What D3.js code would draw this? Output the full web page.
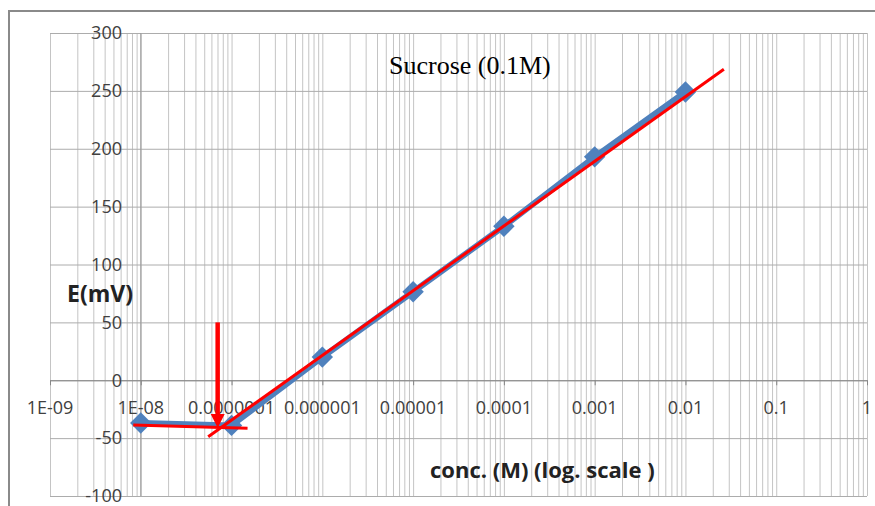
<!DOCTYPE html>
<html>
<head>
<meta charset="utf-8">
<script src="https://cdn.jsdelivr.net/npm/d3@7"></script>
<style>
  body { margin: 0; background: #fff; }
  svg { display: block; }
</style>
</head>
<body>
<div class="chart"></div>
<script>
// Data
const concentrations = [1e-8, 1e-7, 1e-6, 1e-5, 1e-4, 1e-3, 1e-2];
const potentials = [-37, -39, 20, 76.5, 133, 193, 249];

// red trend line (hand drawn in the original)
const fitConc = [5.53e-8, 2.65e-2];
const fitE = [-48.8, 268.6];

// red baseline line
const baseConc = [8.26e-9, 1.5e-7];
const baseE = [-38.7, -41.5];

// red arrow
const arrowConc = [7.03e-8, 7.03e-8];
const arrowE = [50, -41.3];

const xTickValues = [1e-9, 1e-8, 1e-7, 1e-6, 1e-5, 1e-4, 1e-3, 1e-2, 1e-1, 1];
const xTickLabels = ['1E-09', '1E-08', '0.0000001', '0.000001', '0.00001', '0.0001', '0.001', '0.01', '0.1', '1'];
const yTickValues = [-100, -50, 0, 50, 100, 150, 200, 250, 300];

const width = 875, height = 506;
const margin = {top: 33, right: 8, bottom: 10, left: 50};
const plotW = width - margin.left - margin.right;   // 817
const plotH = 496 - margin.top;                        // 463

const svg = d3.select('.chart')
    .append('svg')
    .attr('width', width)
    .attr('height', height);

// Outer chart border
svg.append('rect')
    .attr('x', 9).attr('y', 11)
    .attr('width', 900).attr('height', 600)
    .attr('fill', 'none')
    .attr('stroke', '#8a8a8a')
    .attr('stroke-width', 2);

const g = svg.append('g')
    .attr('transform', `translate(${margin.left},${margin.top})`);

// Scales
const x = d3.scaleLog().domain([1e-9, 1]).range([0, plotW]);
const y = d3.scaleLinear().domain([-100, 300]).range([plotH, 0]);

// Vertical grid: 1..9 in every decade
const minorTicks = [];
xTickValues.slice(0, -1).forEach(dec => {
    for (let m = 1; m <= 9; m++) minorTicks.push(m * dec);
});
minorTicks.push(1);

g.append('g')
    .attr('class', 'x grid')
    .call(d3.axisBottom(x).tickValues(minorTicks).tickSize(plotH).tickFormat(''))
    .call(s => s.select('.domain').remove())
    .call(s => s.selectAll('line').attr('stroke', '#c4c4c4').attr('stroke-width', 1));

// Horizontal grid
g.append('g')
    .attr('class', 'y grid')
    .call(d3.axisRight(y).tickValues(yTickValues).tickSize(plotW).tickFormat(''))
    .call(s => s.select('.domain').remove())
    .call(s => s.selectAll('line').attr('stroke', '#acacac').attr('stroke-width', 1));

// Vertical axis line at 1E-08
g.append('line')
    .attr('x1', x(1e-8)).attr('x2', x(1e-8))
    .attr('y1', 0).attr('y2', plotH)
    .attr('stroke', '#9a9a9a').attr('stroke-width', 1);

// Horizontal axis at E = 0
const xAxisDraw = g.append('g')
    .attr('class', 'x axis')
    .attr('transform', `translate(0,${y(0)})`)
    .call(d3.axisBottom(x).tickValues(xTickValues).tickFormat('').tickSizeInner(5).tickSizeOuter(0));

xAxisDraw.select('.domain').attr('stroke', '#868686');
xAxisDraw.selectAll('line').attr('stroke', '#868686');

// X tick labels
g.append('g')
    .attr('class', 'x labels')
    .selectAll('text')
    .data(xTickValues)
    .join('text')
    .attr('x', d => x(d))
    .attr('y', y(0) + 34)
    .attr('text-anchor', 'middle')
    .attr('font-family', 'Open Sans')
    .attr('font-size', 18)
    .attr('fill', '#404040')
    .text((d, i) => xTickLabels[i]);

// Y tick labels
g.append('g')
    .attr('class', 'y labels')
    .selectAll('text')
    .data(yTickValues)
    .join('text')
    .attr('x', 72)
    .attr('y', d => y(d))
    .attr('dy', '0.35em')
    .attr('text-anchor', 'end')
    .attr('font-family', 'Open Sans')
    .attr('font-size', 18)
    .attr('fill', '#404040')
    .text(d => d);

// Blue series line
const line = d3.line()
    .x(d => x(d[0]))
    .y(d => y(d[1]));

const series = concentrations.map((c, i) => [c, potentials[i]]);

g.append('path')
    .datum(series)
    .attr('d', line)
    .attr('fill', 'none')
    .attr('stroke', '#4F81BD')
    .attr('stroke-width', 6)
    .attr('stroke-linejoin', 'round');

// Diamond markers
g.selectAll('.marker')
    .data(series)
    .join('path')
    .attr('class', 'marker')
    .attr('d', d3.symbol().type(d3.symbolSquare).size(230))
    .attr('transform', d => `translate(${x(d[0])},${y(d[1])}) rotate(45)`)
    .attr('fill', '#4F81BD');

// Red trend line
g.append('path')
    .datum(fitConc.map((c, i) => [c, fitE[i]]))
    .attr('d', line)
    .attr('fill', 'none')
    .attr('stroke', '#ff0000')
    .attr('stroke-width', 3);

// Red baseline
g.append('path')
    .datum(baseConc.map((c, i) => [c, baseE[i]]))
    .attr('d', line)
    .attr('fill', 'none')
    .attr('stroke', '#ff0000')
    .attr('stroke-width', 3);

// Red arrow
const ax = x(arrowConc[0]);
const ay0 = y(arrowE[0]);
const ay1 = y(arrowE[1]);
g.append('line')
    .attr('x1', ax).attr('x2', ax)
    .attr('y1', ay0).attr('y2', ay1 - 12)
    .attr('stroke', '#ff0000')
    .attr('stroke-width', 4.5);
g.append('path')
    .attr('d', `M${ax - 7},${ay1 - 14} L${ax + 7},${ay1 - 14} L${ax},${ay1} Z`)
    .attr('fill', '#ff0000');

// Title
svg.append('text')
    .attr('x', 389)
    .attr('y', 74)
    .attr('font-family', 'Liberation Serif')
    .attr('font-size', 26)
    .attr('fill', '#000')
    .text('Sucrose (0.1M)');

// Axis titles
svg.append('text')
    .attr('x', 67)
    .attr('y', 302)
    .attr('font-family', 'Open Sans')
    .attr('font-weight', 'bold')
    .attr('font-size', 23)
    .attr('fill', '#222')
    .text('E(mV)');

svg.append('text')
    .attr('x', 430)
    .attr('y', 478)
    .attr('font-family', 'Open Sans')
    .attr('font-weight', 'bold')
    .attr('font-size', 22)
    .attr('fill', '#222')
    .text('conc. (M) (log. scale )');
</script>
</body>
</html>
